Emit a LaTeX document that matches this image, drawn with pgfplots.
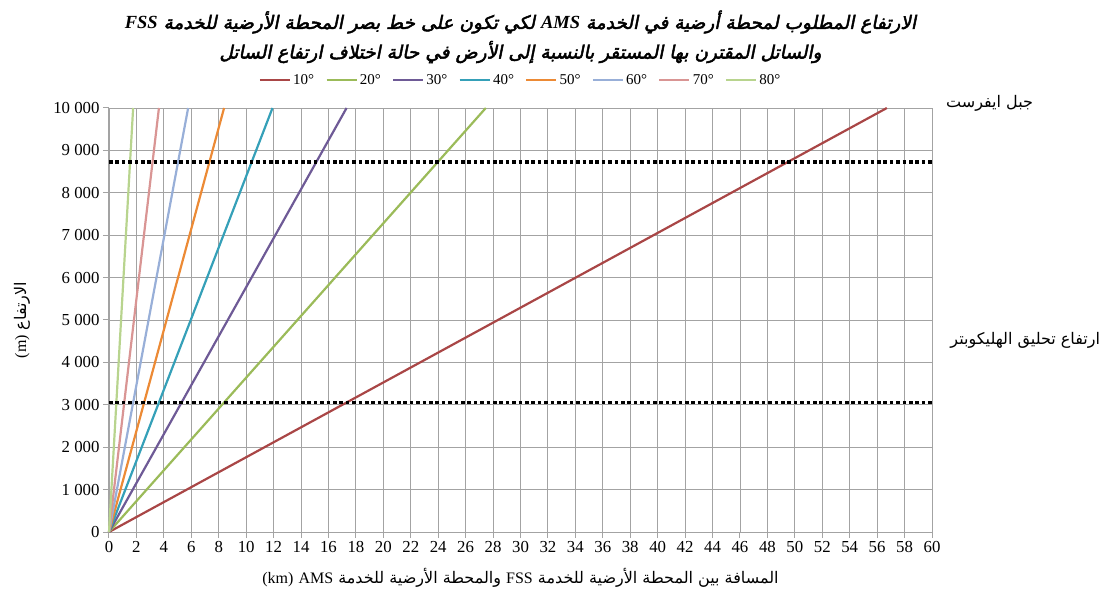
\documentclass[border=0pt]{standalone}
\usepackage{fontspec}
\usepackage{pgfplots}
\pgfplotsset{compat=1.18}
\setmainfont{Liberation Serif}
\TeXXeTstate=1
\newfontfamily\arabicfont[Script=Arabic]{DejaVu Sans}
\newfontfamily\arabictitle[Script=Arabic,FakeBold=2.5,FakeSlant=0.2]{DejaVu Sans}
\definecolor{c10}{HTML}{A94646}
\definecolor{c20}{HTML}{9BBB59}
\definecolor{c30}{HTML}{6E5A96}
\definecolor{c40}{HTML}{35A0B8}
\definecolor{c50}{HTML}{EC8A35}
\definecolor{c60}{HTML}{98AFD8}
\definecolor{c70}{HTML}{D99594}
\definecolor{c80}{HTML}{B8D48E}
\definecolor{gridc}{HTML}{A3A3A3}
\begin{document}
\begin{tikzpicture}
\useasboundingbox (-109pt,-65pt) rectangle (993pt,532pt);
\begin{axis}[
  at={(0,0)}, anchor=south west,
  scale only axis, width=823pt, height=424pt,
  xmin=0, xmax=60, ymin=0, ymax=10000,
  xtick distance=2, ytick distance=1000,
  grid=major, major grid style={gridc, line width=0.9pt},
  axis lines=left, axis line style={gridc, line width=1pt, -},
  tick align=outside, major tick length=6pt, tick style={gridc, line width=1pt},
  scaled y ticks=false,
  /pgf/number format/assume math mode=true,
  /pgf/number format/1000 sep={\ },
  tick label style={font=\fontsize{16.8}{18}\selectfont},
  clip=false,
  legend columns=8,
  legend style={at={(0.5,1.066)}, anchor=center, draw=none, fill=none,
    font=\fontsize{15}{17}\selectfont,
    /tikz/every even column/.append style={column sep=9pt}},
  legend image code/.code={\draw[#1, line width=2.6pt] (0pt,0pt) -- (30pt,0pt);},
  every axis plot/.append style={line width=2.2pt},
]
\addplot[c10] coordinates {(0,0) (56.71,10000)}; \addlegendentry{10°}
\addplot[c20] coordinates {(0,0) (27.47,10000)}; \addlegendentry{20°}
\addplot[c30] coordinates {(0,0) (17.32,10000)}; \addlegendentry{30°}
\addplot[c40] coordinates {(0,0) (11.92,10000)}; \addlegendentry{40°}
\addplot[c50] coordinates {(0,0) (8.39,10000)}; \addlegendentry{50°}
\addplot[c60] coordinates {(0,0) (5.77,10000)}; \addlegendentry{60°}
\addplot[c70] coordinates {(0,0) (3.64,10000)}; \addlegendentry{70°}
\addplot[c80] coordinates {(0,0) (1.76,10000)}; \addlegendentry{80°}
\addplot[black, line width=3.6pt, dash pattern=on 3.6pt off 2.8pt, forget plot] coordinates {(0,8720) (60,8720)};
\addplot[black, line width=3.6pt, dash pattern=on 3.6pt off 2.8pt, forget plot] coordinates {(0,3050) (60,3050)};
\path (rel axis cs:0.5,1) ++(0,86pt) node {\fontsize{18.5}{20}\arabictitle\beginR الارتفاع المطلوب لمحطة أرضية في الخدمة \beginL{\rmfamily\bfseries\itshape AMS}\endL{} لكي تكون على خط بصر المحطة الأرضية للخدمة \beginL{\rmfamily\bfseries\itshape FSS}\endL\endR};
\path (rel axis cs:0.5,1) ++(0,56pt) node {\fontsize{18.5}{20}\arabictitle\beginR والساتل المقترن بها المستقر بالنسبة إلى الأرض في حالة اختلاف ارتفاع الساتل\endR};
\path (rel axis cs:0.5,0) ++(0,-46pt) node {\fontsize{16}{18}\arabicfont\beginR المسافة بين المحطة الأرضية للخدمة \beginL{\rmfamily FSS}\endL{} والمحطة الأرضية للخدمة \beginL{\rmfamily AMS}\endL{} \beginL{\rmfamily (km)}\endL\endR};
\path (rel axis cs:0,0.5) ++(-87pt,0) node[rotate=90] {\fontsize{16}{18}\arabicfont\beginR الارتفاع \beginL{\rmfamily (m)}\endL\endR};
\node at (axis cs:64.2,10100) {\fontsize{16}{18}\arabicfont\beginR جبل ايفرست\endR};
\node at (axis cs:66.8,4530) {\fontsize{16}{18}\arabicfont\beginR ارتفاع تحليق الهليكوبتر\endR};
\end{axis}
\end{tikzpicture}
\end{document}
